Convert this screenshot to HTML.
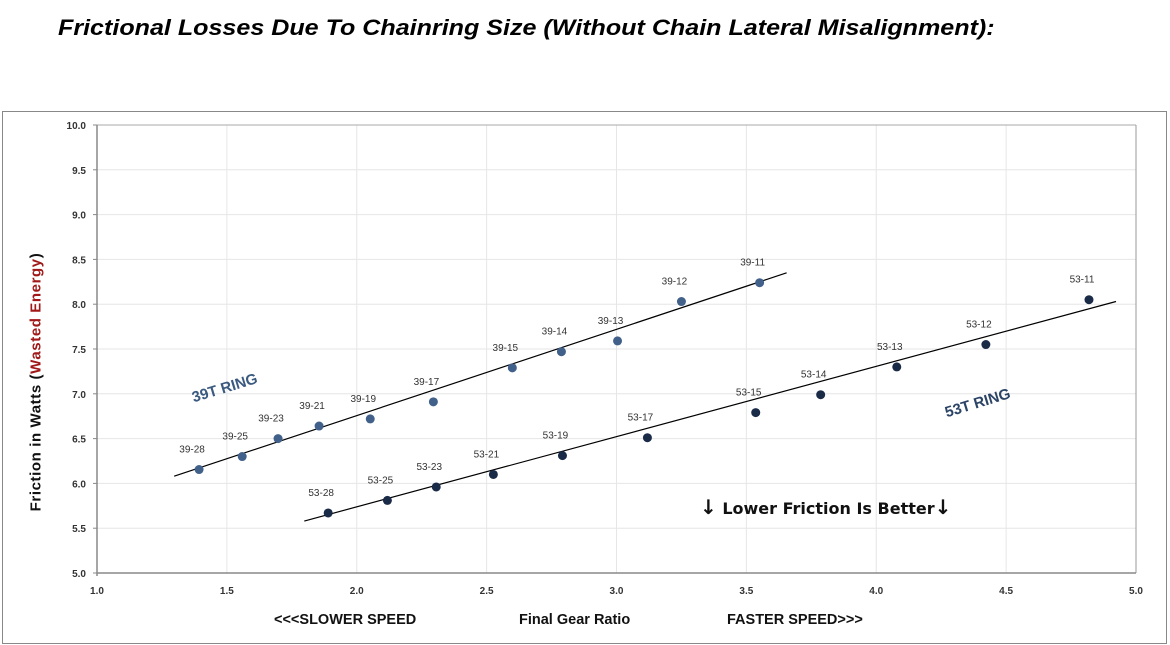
<!DOCTYPE html>
<html><head><meta charset="utf-8"><style>
body{margin:0;background:#fff;width:1170px;height:645px;overflow:hidden;font-family:"Liberation Sans",sans-serif}
svg text{font-family:"Liberation Sans",sans-serif}
</style></head><body>
<div style="position:absolute;left:58px;top:15px;font:italic bold 22px 'Liberation Sans',sans-serif;color:#000;white-space:nowrap;transform:scaleX(1.14);transform-origin:left top">Frictional Losses Due To Chainring Size (Without Chain Lateral Misalignment):</div>
<svg id="c" width="1170" height="645" style="position:absolute;left:0;top:0">
<rect x="2.5" y="111.5" width="1164" height="532" fill="none" stroke="#888" stroke-width="1"/>
</svg>
<script>
const xTicks=[1.0,1.5,2.0,2.5,3.0,3.5,4.0,4.5,5.0];
const yTicks=[5.0,5.5,6.0,6.5,7.0,7.5,8.0,8.5,9.0,9.5,10.0];
const labels39=["39-28","39-25","39-23","39-21","39-19","39-17","39-15","39-14","39-13","39-12","39-11"];
const x39=[1.393,1.559,1.697,1.855,2.052,2.295,2.599,2.788,3.004,3.250,3.551];
const y39=[6.155,6.30,6.50,6.64,6.72,6.91,7.29,7.47,7.59,8.03,8.24];
const labels53=["53-28","53-25","53-23","53-21","53-19","53-17","53-15","53-14","53-13","53-12","53-11"];
const x53=[1.890,2.118,2.306,2.526,2.792,3.119,3.536,3.786,4.079,4.422,4.819];
const y53=[5.67,5.81,5.96,6.10,6.31,6.51,6.79,6.99,7.30,7.55,8.05];
const trend39=[[1.297,6.08],[3.655,8.35]];
const trend53=[[1.798,5.58],[4.923,8.03]];
const NS="http://www.w3.org/2000/svg",svg=document.getElementById('c');
const X=v=>97+(v-1)*259.75, Y=v=>573-(v-5)*89.6;
function el(t,a,txt){const e=document.createElementNS(NS,t);for(const k in a)e.setAttribute(k,a[k]);if(txt!==undefined)e.textContent=txt;svg.appendChild(e);return e;}
xTicks.forEach(v=>{if(v>1){const g=el('line',{x1:X(v),x2:X(v),y1:Y(10),y2:Y(5),stroke:'#e6e6e6'});

}
const t=el('text',{x:X(v),y:594,'font-size':10,'font-weight':'bold','text-anchor':'middle',fill:'#333'},v.toFixed(1));

});
yTicks.forEach(v=>{if(v>5){const g=el('line',{x1:X(1),x2:X(5),y1:Y(v),y2:Y(v),stroke:'#e6e6e6'});

}
el('line',{x1:X(1)-4,x2:X(1),y1:Y(v),y2:Y(v),stroke:'#888'});
const t=el('text',{x:86,y:Y(v)+4,'font-size':10,'font-weight':'bold','text-anchor':'end',fill:'#333'},v.toFixed(1));

});
el('line',{x1:X(1),x2:X(5),y1:Y(10),y2:Y(10),stroke:'#aaa'});
el('line',{x1:X(5),x2:X(5),y1:Y(10),y2:Y(5),stroke:'#999'});
const ax=el('line',{x1:X(1),x2:X(1),y1:Y(10),y2:Y(5)+3,stroke:'#888','stroke-width':1.5});


const ax2=el('line',{x1:X(1),x2:X(5),y1:Y(5),y2:Y(5),stroke:'#888','stroke-width':1.5});


[[trend39,'trendline-39'],[trend53,'trendline-53']].forEach(([t,n])=>{const l=el('line',{x1:X(t[0][0]),y1:Y(t[0][1]),x2:X(t[1][0]),y2:Y(t[1][1]),stroke:'#000','stroke-width':1.2});

});
function series(xs,ys,ls,col,name){xs.forEach((x,i)=>{const c=el('circle',{cx:X(x),cy:Y(ys[i]),r:4.5,fill:col});


const t=el('text',{x:X(x)-7,y:Y(ys[i])-17,'font-size':10,'text-anchor':'middle',fill:'#333'},ls[i]);

});}
series(x39,y39,labels39,'#41608a','ring-39');
series(x53,y53,labels53,'#1a2b48','ring-53');
</script>
<div style="position:absolute;left:36px;top:382px;transform:translate(-50%,-50%) rotate(-90deg);white-space:nowrap;font:bold 15px 'Liberation Sans',sans-serif;letter-spacing:0.6px;color:#111">Friction in Watts (<span style="color:#a01818">Wasted Energy</span>)</div>
<div style="position:absolute;left:190px;top:390px;transform:rotate(-17deg);transform-origin:left top;font:bold 15px 'Liberation Sans',sans-serif;color:#3a5a80">39T RING</div>
<div style="position:absolute;left:943px;top:405px;transform:rotate(-17deg);transform-origin:left top;font:bold 15px 'Liberation Sans',sans-serif;color:#2c4466">53T RING</div>
<div style="position:absolute;left:700px;top:495px;font:bold 16px 'DejaVu Sans',sans-serif;color:#111"><b style="font-size:20px">↓</b> Lower Friction Is Better<b style="font-size:20px">↓</b></div>
<div style="position:absolute;left:274px;top:612px;font:bold 14.5px 'Liberation Sans',sans-serif;color:#111">&lt;&lt;&lt;SLOWER SPEED</div>
<div style="position:absolute;left:519px;top:612px;font:bold 14.5px 'Liberation Sans',sans-serif;color:#111">Final Gear Ratio</div>
<div style="position:absolute;left:727px;top:612px;font:bold 14.5px 'Liberation Sans',sans-serif;color:#111">FASTER SPEED&gt;&gt;&gt;</div>
</body></html>
